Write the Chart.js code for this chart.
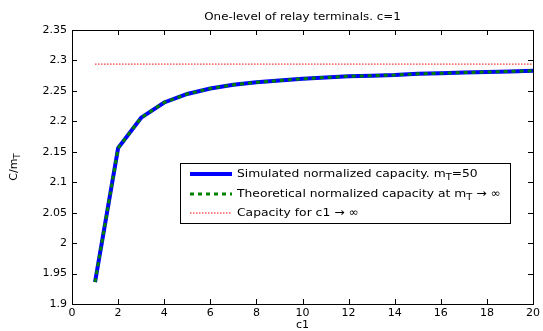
<!DOCTYPE html>
<html>
<head>
<meta charset="utf-8">
<script src="https://cdn.jsdelivr.net/npm/chart.js@4.4.0/dist/chart.umd.min.js"></script>
<style>
  html, body { margin: 0; padding: 0; background: #fff; }
  #wrap { width: 543px; height: 331px; position: relative; }
</style>
</head>
<body>
<div id="wrap"><canvas id="chart"></canvas></div>
<script>
// values
const c1 = [1, 2, 3, 4, 5, 6, 7, 8, 9, 10, 11, 12, 13, 14, 15, 16, 17, 18, 19, 20];
const simulated = [1.936, 2.156, 2.206, 2.231, 2.245, 2.254, 2.260, 2.264, 2.267, 2.270,
                   2.272, 2.274, 2.275, 2.276, 2.278, 2.279, 2.280, 2.281, 2.282, 2.283];
const theoretical = [1.936, 2.156, 2.206, 2.231, 2.245, 2.254, 2.260, 2.264, 2.267, 2.270,
                     2.272, 2.274, 2.275, 2.276, 2.278, 2.279, 2.280, 2.281, 2.282, 2.283];
const limitX = [1, 20];
const limitY = [2.294, 2.294];

const xTicks = [0, 2, 4, 6, 8, 10, 12, 14, 16, 18, 20];
const yTicks = [1.9, 1.95, 2, 2.05, 2.1, 2.15, 2.2, 2.25, 2.3, 2.35];

const titleText = "One-level of relay terminals. c=1";
const xLabel = "c1";
const yLabel = "C/m_T";
const legendLabels = [
  "Simulated normalized capacity. m_T=50",
  "Theoretical normalized capacity at m_T \u2192 \u221e",
  "Capacity for c1 \u2192 \u221e"
];

const FONT = "'DejaVu Sans', Arial, sans-serif";
const pts = (xs, ys) => xs.map((x, i) => ({ x: x, y: ys[i] }));

// draws text where "_T" means subscript T
function richText(ctx, str, x, y, size) {
  const parts = str.split(/(_\w)/);
  ctx.textBaseline = "middle";
  ctx.textAlign = "left";
  let cx = x;
  parts.forEach(p => {
    if (!p) return;
    if (p[0] === "_") {
      ctx.font = (size * 0.8) + "px " + FONT;
      ctx.fillText(p.slice(1), cx, y + size * 0.35);
      cx += ctx.measureText(p.slice(1)).width;
    } else {
      ctx.font = size + "px " + FONT;
      ctx.fillText(p, cx, y);
      cx += ctx.measureText(p).width;
    }
  });
  return cx - x;
}

function richWidth(ctx, str, size) {
  let w = 0;
  str.split(/(_\w)/).forEach(p => {
    if (!p) return;
    if (p[0] === "_") { ctx.font = (size * 0.8) + "px " + FONT; w += ctx.measureText(p.slice(1)).width; }
    else { ctx.font = size + "px " + FONT; w += ctx.measureText(p).width; }
  });
  return w;
}

const matlabBox = {
  id: "matlabBox",
  afterDraw(chart) {
    const ctx = chart.ctx;
    const a = chart.chartArea;
    const xs = chart.scales.x, ys = chart.scales.y;
    ctx.save();
    ctx.strokeStyle = "#000";
    ctx.lineWidth = 1;
    ctx.strokeRect(Math.round(a.left) + 0.5, Math.round(a.top) + 0.5,
                   Math.round(a.right - a.left), Math.round(a.bottom - a.top));
    ctx.beginPath();
    xs.ticks.forEach(t => {
      const px = Math.round(xs.getPixelForValue(t.value)) + 0.5;
      ctx.moveTo(px, a.bottom); ctx.lineTo(px, a.bottom - 5);
      ctx.moveTo(px, a.top); ctx.lineTo(px, a.top + 5);
    });
    ys.ticks.forEach(t => {
      const py = Math.round(ys.getPixelForValue(t.value)) + 0.5;
      ctx.moveTo(a.left, py); ctx.lineTo(a.left + 5, py);
      ctx.moveTo(a.right, py); ctx.lineTo(a.right - 5, py);
    });
    ctx.stroke();

    // title (slightly stretched like the original figure)
    ctx.fillStyle = "#000";
    ctx.save();
    ctx.translate((a.left + a.right) / 2, 17);
    ctx.scale(1.08, 1);
    ctx.font = "11px " + FONT;
    ctx.textAlign = "center";
    ctx.textBaseline = "middle";
    ctx.fillText(titleText, 0, 0);
    ctx.restore();

    // y label, rotated
    ctx.save();
    ctx.translate(14, (a.top + a.bottom) / 2);
    ctx.rotate(-Math.PI / 2);
    const w = richWidth(ctx, yLabel, 11);
    richText(ctx, yLabel, -w / 2, 0, 11);
    ctx.restore();

    // legend
    const lx = 180.5, ly = 163.5, lw = 330, lh = 60;
    ctx.fillStyle = "#fff";
    ctx.fillRect(lx, ly, lw, lh);
    ctx.strokeStyle = "#000";
    ctx.lineWidth = 1;
    ctx.strokeRect(lx, ly, lw, lh);
    const rows = [174, 194, 213];
    [0, 1, 2].forEach((di, i) => {
      const ds = chart.data.datasets.find(d => d.key === di);
      ctx.save();
      ctx.strokeStyle = ds.borderColor;
      ctx.lineWidth = ds.borderWidth;
      ctx.setLineDash(ds.borderDash || []);
      ctx.beginPath();
      ctx.moveTo(190, rows[i]);
      ctx.lineTo(232, rows[i]);
      ctx.stroke();
      ctx.restore();
      ctx.save();
      ctx.fillStyle = "#000";
      ctx.translate(237, rows[i]);
      ctx.scale(1.12, 1);
      richText(ctx, legendLabels[i], 0, 0, 11);
      ctx.restore();
    });
    ctx.restore();
  }
};

Chart.defaults.font.family = FONT;
Chart.defaults.font.size = 11;
Chart.defaults.color = "#000";

new Chart(document.getElementById("chart"), {
  type: "line",
  data: {
    datasets: [
      {
        key: 1,
        label: legendLabels[1],
        data: pts(c1, theoretical),
        borderColor: "#008000",
        borderWidth: 3,
        borderDash: [4, 4],
        order: 0
      },
      {
        key: 0,
        label: legendLabels[0],
        data: pts(c1, simulated),
        borderColor: "#0000ff",
        borderWidth: 4,
        order: 1
      },
      {
        key: 2,
        label: legendLabels[2],
        data: pts(limitX, limitY),
        borderColor: "#ff0000",
        borderWidth: 1,
        borderDash: [1.5, 1.5],
        order: 2
      }
    ]
  },
  options: {
    responsive: true,
    maintainAspectRatio: false,
    animation: false,
    devicePixelRatio: 1,
    layout: { padding: { top: 30, right: 7, left: 0, bottom: 0 } },
    elements: { point: { radius: 0 }, line: { tension: 0, fill: false } },
    plugins: { legend: { display: false }, tooltip: { enabled: false }, title: { display: false } },
    scales: {
      x: {
        type: "linear",
        min: 0, max: 20,
        afterBuildTicks: s => { s.ticks = xTicks.map(v => ({ value: v })); },
        afterFit: s => { s.height = 27; },
        grid: { display: false, drawTicks: false },
        border: { display: false },
        ticks: { padding: 3, maxRotation: 0, callback: v => String(v) },
        title: { display: true, text: xLabel, padding: { top: 0, bottom: -1 } }
      },
      y: {
        type: "linear",
        min: 1.9, max: 2.35,
        afterBuildTicks: s => { s.ticks = yTicks.map(v => ({ value: v })); },
        afterFit: s => { s.width = 72; },
        grid: { display: false, drawTicks: false },
        border: { display: false },
        ticks: { padding: 5, callback: v => String(+v.toFixed(2)) }
      }
    }
  },
  plugins: [matlabBox]
});
</script>
</body>
</html>
